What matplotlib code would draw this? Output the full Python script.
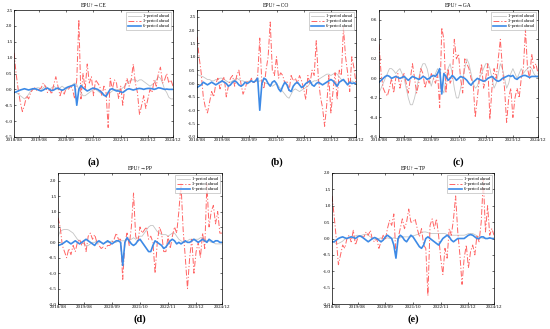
import numpy as np
import matplotlib
matplotlib.use("Agg")
import matplotlib.pyplot as plt

plt.rcParams['font.family'] = ['Liberation Serif', 'DejaVu Serif']

# monthly index 2018/08 .. 2024/12
tick_labels = ["2018/08", "2019/08", "2020/09", "2021/10", "2022/11", "2023/12", "2024/12"]
tick_pos = [0, 12, 25, 38, 51, 64, 76]
series_names = ["1-period ahead", "3-period ahead", "6-period ahead"]

# (a) EPU -> CE
ce_1 = [-0.1, -0.1, -0.15, -0.2, -0.25, -0.3, -0.25, -0.15, -0.05, 0.0,
        0.0, 0.05, 0.05, 0.0, 0.05, 0.1, 0.05, 0.0, 0.05, 0.1,
        0.05, 0.0, 0.05, 0.1, 0.05, 0.0, 0.05, 0.1, 0.15, 0.2,
        0.15, 0.0, -0.1, -0.2, -0.2, -0.15, -0.1, -0.05, 0.0, 0.0,
        -0.05, -0.1, -0.15, -0.2, -0.2, -0.15, -0.1, -0.05, 0.0, 0.0,
        0.0, 0.0, 0.05, 0.1, 0.2, 0.25, 0.3, 0.3, 0.3, 0.25,
        0.3, 0.3, 0.25, 0.2, 0.15, 0.1, 0.15, 0.2, 0.3, 0.4,
        0.35, 0.2, 0.0, -0.1, -0.25, -0.3, -0.3]
ce_3 = [1.15, 0.5, 0.0, -0.4, -0.7, -0.5, -0.2, -0.3, -0.1, 0.0,
        0.05, -0.05, 0.0, 0.05, 0.2, 0.1, -0.1, 0.0, -0.15, 0.15,
        0.4, 0.1, -0.2, 0.0, -0.15, 0.05, 0.0, 0.1, 0.0, -0.3,
        0.3, 2.2, -0.3, 0.5, 0.0, 0.8, 0.2, 0.4, -0.2, 0.3,
        0.2, 0.1, -0.2, 0.1, -0.1, -1.2, 0.35, 0.0, 0.3, 0.2,
        -0.3, 0.1, -0.5, 0.1, 0.35, 0.1, 0.3, 0.8, 0.2, -0.1,
        -0.8, -0.5, -0.2, -0.6, -0.3, 0.0, -0.1, 0.3, 0.1, 0.5,
        0.7, 0.2, 0.3, 0.5, 0.2, 0.3, 0.1]
ce_6 = [-0.1, -0.08, -0.05, -0.02, 0.0, 0.02, 0.0, -0.02, 0.0, 0.02,
        0.02, 0.0, -0.03, -0.05, -0.02, 0.02, 0.04, 0.0, -0.04, -0.02,
        0.02, 0.04, 0.0, -0.03, 0.0, 0.05, 0.08, 0.1, 0.12, 0.15,
        -0.5, 0.0, 0.12, 0.05, 0.0, -0.05, -0.02, 0.02, 0.04, 0.02,
        0.0, -0.05, -0.1, -0.18, -0.22, -0.1, 0.0, 0.02, -0.02, -0.05,
        -0.05, -0.08, -0.1, -0.05, 0.0, 0.02, 0.0, -0.02, 0.0, 0.02,
        0.03, 0.02, 0.0, 0.02, 0.03, 0.03, 0.02, 0.0, 0.02, 0.05,
        0.04, 0.02, 0.0, 0.01, 0.0, 0.0, 0.0]

# (b) EPU -> CO
co_1 = [0.35, 0.3, 0.28, 0.25, 0.2, 0.15, 0.15, 0.1, 0.1, 0.15,
        0.15, 0.2, 0.2, 0.15, 0.1, 0.05, 0.05, 0.1, 0.15, 0.2,
        0.15, 0.1, 0.1, 0.05, 0.05, 0.1, 0.1, 0.05, 0.1, 0.05,
        0.1, 0.1, 0.05, 0.0, 0.0, -0.05, -0.1, -0.05, 0.0, -0.1,
        -0.2, -0.3, -0.4, -0.5, -0.55, -0.4, -0.25, -0.2, -0.25, -0.3,
        -0.25, -0.2, -0.15, -0.1, 0.0, 0.05, 0.1, 0.1, 0.15, 0.2,
        0.25, 0.3, 0.35, 0.35, 0.3, 0.35, 0.4, 0.35, 0.25, 0.15,
        0.1, 0.05, 0.0, 0.05, 0.1, 0.05, 0.0]
co_3 = [1.75, 1.0, 0.4, -0.5, -0.9, -1.1, -0.7, -0.3, -0.5, 0.0,
        0.2, -0.2, 0.1, 0.25, -0.5, -0.1, 0.2, 0.3, -0.1, 0.3,
        0.5, 0.0, -0.4, -0.2, 0.1, 0.0, 0.2, 0.0, 0.1, 0.3,
        1.7, 0.0, -0.2, 0.5, 1.0, 2.3, 0.5, 0.3, 1.0, 0.2,
        0.4, 0.3, 0.0, 0.1, -0.3, 0.3, 0.1, 0.2, 0.0, 0.3,
        0.1, -0.2, -0.6, 0.3, 0.0, 0.5, 0.3, 1.6, 0.2, -0.5,
        -0.9, -1.6, -0.8, 0.3, -1.1, -0.3, 0.4, -0.6, 0.5, 0.3,
        2.1, 1.0, 0.4, -0.3, 1.0, 0.6, 0.0]
co_6 = [-0.15, -0.1, -0.05, 0.05, 0.0, -0.05, 0.0, 0.05, 0.0, -0.05,
        0.0, 0.05, 0.1, 0.05, 0.0, -0.1, -0.05, 0.05, 0.1, 0.05,
        -0.05, -0.1, -0.05, 0.05, 0.0, 0.05, 0.1, 0.05, 0.1, 0.2,
        -1.0, 0.0, 0.2, 0.15, 0.0, -0.1, 0.05, 0.1, 0.0, -0.2,
        -0.3, -0.1, 0.05, -0.05, -0.25, -0.3, -0.1, 0.0, 0.05, -0.05,
        -0.15, -0.1, 0.0, 0.05, 0.1, -0.05, -0.1, 0.0, 0.05, 0.0,
        -0.05, 0.0, 0.05, 0.1, 0.15, 0.1, 0.0, -0.1, 0.05, 0.1,
        0.15, 0.05, -0.05, 0.05, 0.0, 0.02, 0.0]

# (c) EPU -> GA
ga_1 = [-0.15, -0.1, -0.05, 0.0, 0.05, 0.1, 0.1, 0.08, 0.05, 0.08,
        0.1, 0.05, 0.0, -0.1, -0.2, -0.27, -0.27, -0.2, -0.1, 0.0,
        0.1, 0.15, 0.15, 0.1, 0.0, -0.08, 0.0, 0.05, 0.1, 0.05,
        -0.1, -0.15, 0.0, 0.1, 0.15, 0.05, -0.1, -0.2, -0.2, -0.1,
        0.0, 0.1, 0.2, 0.15, 0.05, -0.05, -0.1, -0.08, 0.0, 0.05,
        0.1, 0.15, 0.15, 0.1, 0.0, -0.1, -0.05, 0.05, 0.15, 0.1,
        0.0, -0.1, -0.05, 0.05, 0.1, 0.05, 0.0, 0.05, 0.1, 0.05,
        0.08, 0.1, 0.12, 0.1, 0.05, 0.02, 0.0]
ga_3 = [0.35, 0.05, -0.1, -0.15, -0.18, -0.1, 0.0, -0.15, 0.0, 0.05,
        -0.1, 0.0, 0.05, -0.05, -0.15, 0.0, 0.15, 0.0, -0.15, -0.05,
        0.1, 0.05, -0.1, 0.0, -0.05, 0.05, 0.0, -0.05, 0.05, -0.3,
        0.52, 0.4, -0.15, 0.1, -0.05, 0.0, 0.4, 0.2, 0.25, 0.0,
        -0.15, 0.2, 0.15, 0.1, 0.0, -0.05, -0.4, -0.2, 0.0, 0.15,
        -0.1, 0.0, 0.15, -0.42, -0.1, 0.1, 0.0, 0.2, 0.4, 0.1,
        -0.1, -0.45, -0.2, -0.1, -0.4, -0.2, -0.1, -0.2, 0.0, 0.1,
        0.5, 0.1, 0.0, 0.25, 0.1, 0.15, 0.05]
ga_6 = [-0.04, -0.02, 0.0, 0.02, 0.03, 0.02, 0.0, 0.01, 0.02, 0.01,
        0.0, 0.01, 0.02, 0.0, -0.02, 0.0, 0.02, 0.01, 0.0, -0.01,
        0.0, 0.02, 0.01, -0.01, 0.0, 0.02, 0.03, 0.02, 0.05, 0.1,
        -0.16, 0.05, 0.02, -0.02, 0.0, 0.03, 0.01, -0.02, 0.0, 0.02,
        0.01, 0.0, -0.02, -0.05, -0.07, -0.04, -0.02, 0.0, -0.01, -0.02,
        -0.03, -0.02, 0.0, 0.01, 0.02, 0.0, -0.02, -0.03, -0.02, 0.0,
        0.01, 0.02, 0.03, 0.02, 0.03, 0.0, -0.01, 0.01, 0.02, 0.03,
        0.03, 0.02, 0.01, 0.02, 0.02, 0.02, 0.02]

# (d) EPU -> PP
pp_1 = [0.2, 0.35, 0.4, 0.42, 0.42, 0.4, 0.35, 0.3, 0.2, 0.1,
        0.05, 0.0, -0.05, -0.1, -0.1, -0.05, 0.0, 0.0, 0.05, 0.0,
        0.0, -0.05, 0.0, 0.0, 0.0, 0.05, 0.0, 0.0, 0.05, 0.05,
        0.05, 0.05, 0.1, 0.1, 0.1, 0.15, 0.1, 0.15, 0.2, 0.2,
        0.3, 0.4, 0.5, 0.55, 0.55, 0.45, 0.35, 0.3, 0.25, 0.25,
        0.25, 0.2, 0.25, 0.3, 0.3, 0.2, 0.1, 0.05, 0.0, 0.0,
        0.05, 0.1, 0.1, 0.1, 0.1, 0.1, 0.15, 0.15, 0.1, 0.05,
        0.05, 0.0, 0.0, -0.05, -0.05, -0.05, -0.05]
pp_3 = [0.8, 0.5, -0.1, -0.3, -0.5, -0.2, -0.4, -0.1, -0.3, 0.0,
        0.1, -0.1, 0.05, -0.3, 0.2, 0.3, 0.1, 0.25, 0.0, -0.1,
        -0.2, -0.15, -0.2, -0.1, -0.1, 0.0, 0.1, 0.3, 0.1, 0.1,
        -1.2, 0.0, 0.3, -0.1, 0.5, 1.6, 0.2, 0.0, 0.5, 0.3,
        0.4, 0.5, 0.1, 0.2, 0.0, -1.0, 0.0, 0.5, 0.3, -0.3,
        -0.3, 0.2, -0.2, 0.2, 0.5, 0.3, 1.0, 1.9, 0.4, -0.5,
        -1.5, -0.5, 0.1, -1.0, -0.3, 0.0, -0.5, 0.3, -0.2, 1.9,
        0.5, 1.0, 1.2, 0.6, 1.0, 0.3, 0.3]
pp_6 = [-0.1, -0.08, -0.05, 0.0, 0.05, 0.0, -0.05, 0.0, 0.05, 0.0,
        -0.05, 0.0, 0.05, 0.1, 0.05, 0.0, -0.05, -0.1, 0.0, 0.05,
        0.0, -0.05, 0.0, 0.05, 0.0, -0.05, 0.0, 0.05, 0.05, 0.0,
        -0.75, 0.0, 0.15, 0.05, -0.05, -0.1, -0.05, 0.05, 0.1, 0.0,
        -0.1, -0.2, -0.3, -0.3, -0.1, 0.05, 0.0, -0.05, -0.1, -0.2,
        -0.15, -0.05, 0.05, 0.1, 0.05, -0.05, 0.0, -0.05, 0.0, 0.05,
        0.0, 0.0, 0.05, 0.1, 0.05, 0.0, 0.05, 0.1, 0.05, 0.0,
        0.1, 0.05, 0.0, 0.05, 0.05, 0.0, 0.0]

# (e) EPU -> TP
tp_1 = [-0.1, -0.12, -0.15, -0.15, -0.12, -0.08, -0.02, 0.0, 0.02, 0.05,
        0.05, 0.08, 0.1, 0.08, 0.1, 0.12, 0.12, 0.1, 0.05, 0.0,
        -0.02, 0.0, 0.0, 0.02, 0.0, 0.0, 0.02, 0.0, 0.0, 0.02,
        0.0, 0.0, 0.02, 0.05, 0.05, 0.05, 0.05, 0.05, 0.08, 0.1,
        0.12, 0.15, 0.18, 0.2, 0.2, 0.18, 0.15, 0.15, 0.15, 0.15,
        0.15, 0.15, 0.15, 0.15, 0.12, 0.1, 0.1, 0.1, 0.1, 0.1,
        0.1, 0.1, 0.1, 0.12, 0.15, 0.15, 0.15, 0.12, 0.08, 0.05,
        0.02, 0.0, 0.0, 0.0, 0.0, 0.0, 0.0]
tp_3 = [1.3, 0.7, 0.0, -0.8, -0.5, -0.2, -0.3, 0.0, 0.1, -0.1,
        0.25, -0.2, 0.0, 0.1, 0.05, 0.05, 0.2, 0.1, 0.25, -0.05,
        -0.1, 0.0, -0.3, -0.1, 0.1, -0.05, 0.3, 0.55, 0.4, 0.75,
        -0.5, 0.0, 0.3, 0.6, 0.3, 0.5, 0.9, 0.5, 0.5, 0.6,
        0.3, 0.05, 0.3, -0.2, -0.3, -1.75, 0.4, 0.6, 0.3, 0.6,
        0.1, -0.6, -1.1, -0.3, -0.6, 0.3, 0.1, 0.6, 1.3, 0.2,
        -0.5, -1.4, -0.6, -0.2, -0.9, -0.4, -0.2, -0.5, 0.1, -0.1,
        0.5, 1.8, 0.2, 1.0, 0.1, 0.3, 0.1]
tp_6 = [-0.1, -0.1, -0.05, 0.0, 0.03, 0.05, 0.02, 0.0, 0.03, 0.05,
        0.03, 0.0, 0.05, 0.08, 0.05, 0.0, -0.05, -0.1, -0.05, 0.0,
        0.03, 0.0, -0.05, -0.1, -0.05, 0.05, 0.1, 0.05, 0.0, -0.2,
        -0.6, 0.0, 0.1, 0.05, -0.05, -0.1, 0.0, 0.1, 0.05, -0.05,
        -0.15, -0.25, -0.3, -0.2, 0.0, 0.05, 0.0, -0.05, -0.1, -0.15,
        -0.2, -0.1, 0.0, 0.05, 0.1, 0.05, -0.05, -0.1, -0.05, 0.0,
        0.0, 0.0, 0.0, 0.05, 0.1, 0.12, 0.1, 0.05, 0.0, 0.0,
        0.05, 0.05, 0.0, 0.0, 0.02, 0.0, 0.0]

panels = [
    ("EPU↑→CE", "(a)", ce_1, ce_3, ce_6, (-1.5, 2.5), np.arange(-1.5, 2.51, 0.5)),
    ("EPU↑→CO", "(b)", co_1, co_3, co_6, (-2.0, 2.75), np.arange(-2.0, 2.51, 0.5)),
    ("EPU↑→GA", "(c)", ga_1, ga_3, ga_6, (-0.6, 0.7), np.arange(-0.6, 0.61, 0.2)),
    ("EPU↑→PP", "(d)", pp_1, pp_3, pp_6, (-2.0, 2.25), np.arange(-2.0, 2.01, 0.5)),
    ("EPU↑→TP", "(e)", tp_1, tp_3, tp_6, (-2.0, 2.0), np.arange(-2.0, 2.01, 0.5)),
]

# axes boxes in pixels: left, top, right, bottom; plus y of the panel letter
boxes = [(14, 10, 173, 137), (197, 10, 356, 137), (379, 10, 538, 137),
         (58, 173, 222, 304), (332, 173, 494, 304)]
label_y = [162, 162, 162, 319, 319]

W, H = 550, 329
fig = plt.figure(figsize=(W / 100, H / 100), dpi=100)

for (title, lab, s1, s3, s6, ylim, yt), (l, t, r, b), ly in zip(panels, boxes, label_y):
    ax = fig.add_axes([l / W, 1 - b / H, (r - l) / W, (b - t) / H])
    x = np.arange(len(s1))
    ax.plot(x, s1, color="#c4c4c4", lw=0.6, label=series_names[0])
    ax.plot(x, s3, color="#ff6464", lw=0.7, ls=(0, (6, 2, 1.2, 2)), label=series_names[1])
    ax.plot(x, s6, color="#3d8ae6", lw=1.2, label=series_names[2])
    ax.set_xlim(0, 76)
    ax.set_ylim(*ylim)
    ax.set_xticks(tick_pos)
    ax.set_xticklabels(tick_labels)
    ax.set_yticks(yt)
    ax.set_yticklabels(["%.1f" % v for v in yt])
    ax.tick_params(direction="in", top=True, right=True, labelsize=3.6,
                   length=1.5, width=0.4, pad=1)
    for sp in ax.spines.values():
        sp.set_linewidth(0.5)
    ax.set_title(title, fontsize=4, pad=2)
    leg = ax.legend(loc="upper right", fontsize=3.2, frameon=True, fancybox=False,
                    edgecolor="#999999", handlelength=3, borderpad=0.4,
                    labelspacing=0.2, handletextpad=0.4)
    leg.get_frame().set_linewidth(0.4)
    fig.text((l + r) / 2 / W, 1 - ly / H, lab, ha="center", va="center",
             fontsize=7.5, fontweight="bold")

fig.savefig("out.png", dpi=100)
